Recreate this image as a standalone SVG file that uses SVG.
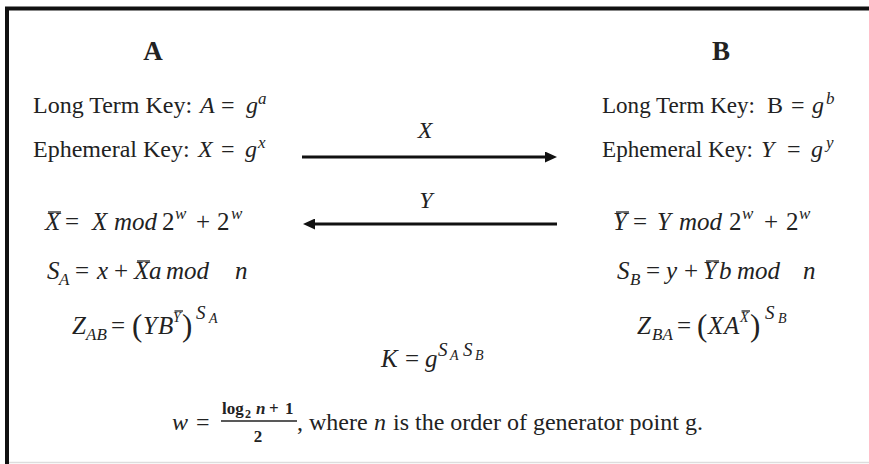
<svg xmlns="http://www.w3.org/2000/svg" width="869" height="464" viewBox="0 0 869 464">
<defs>
<style>
text { font-family: "Liberation Serif", "Times New Roman", serif; fill: #222; }
.t { font-size: 24px; }
.ttl { font-size: 27px; font-weight: bold; }
.m { font-size: 25px; }
.i { font-style: italic; }
.sup { font-size: 17px; }
.sup2 { font-size: 19px; }
.ss { font-size: 14px; }
.sm { font-size: 14px; }
.par { font-size: 31px; }
.num { font-size: 17px; font-weight: bold; }
.bar { stroke: #222; stroke-width: 1.3; }
.arrow { stroke: #111; stroke-width: 3; fill: none; marker-end: url(#head); }
</style>
<marker id="head" viewBox="0 0 12 11" markerWidth="12" markerHeight="11" refX="3" refY="5.5" orient="auto" markerUnits="userSpaceOnUse">
<path d="M0,0 L12,5.5 L0,11 z" fill="#111"/>
</marker>
</defs>
<rect width="869" height="464" fill="#fff"/>
<g id="frame">
<line x1="5" y1="8.5" x2="869" y2="8.5" stroke="#111" stroke-width="4"/>
<line x1="7" y1="7" x2="7" y2="464" stroke="#111" stroke-width="4"/>
<line x1="9" y1="462.5" x2="869" y2="462.5" stroke="#ddd" stroke-width="1.5"/>
</g>
<g id="node-A">
<text class="ttl" x="153" y="60" text-anchor="middle">A</text>
<text class="t" x="33" y="113">Long Term Key: <tspan class="i" x="200">A</tspan><tspan x="221">=</tspan><tspan class="i" x="246">g</tspan><tspan class="i sup" x="258" y="104">a</tspan></text>
<text class="t" x="33" y="157">Ephemeral Key: <tspan class="i" x="198">X</tspan><tspan x="221">=</tspan><tspan class="i" x="245">g</tspan><tspan class="i sup" x="258" y="148">x</tspan></text>
<text class="m" y="230"><tspan class="i" x="45">X</tspan><tspan x="65">=</tspan><tspan class="i" x="92">X</tspan><tspan class="i" x="114">mod</tspan><tspan x="162">2</tspan><tspan class="i sup" x="175" y="219">w</tspan><tspan x="196" y="230">+</tspan><tspan x="217">2</tspan><tspan class="i sup" x="231" y="219">w</tspan></text>
<line class="bar" x1="48" y1="212" x2="61" y2="212"/>
<text class="m" y="279"><tspan class="i" x="47">S</tspan><tspan class="i sup" x="59" y="285">A</tspan><tspan x="75" y="279">=</tspan><tspan class="i" x="97">x</tspan><tspan x="114">+</tspan><tspan class="i" x="134">X</tspan><tspan class="i" x="149">a</tspan><tspan class="i" x="166">mod</tspan><tspan class="i" x="235">n</tspan></text>
<line class="bar" x1="137" y1="261" x2="150" y2="261"/>
<text class="m" y="334"><tspan class="i" x="72">Z</tspan><tspan class="i sup" x="86" y="340">AB</tspan><tspan x="111" y="334">=</tspan><tspan class="par" x="132" y="336">(</tspan><tspan class="i" x="143" y="334">Y</tspan><tspan class="i" x="158">B</tspan><tspan class="i sm" x="173" y="322">Y</tspan><tspan class="par" x="182" y="336">)</tspan><tspan class="i sup2" x="196" y="319">S</tspan><tspan class="i ss" x="209" y="323">A</tspan></text>
<line class="bar" x1="174.5" y1="311" x2="183" y2="311"/>
</g>
<g id="node-B">
<text class="ttl" x="721" y="60" text-anchor="middle">B</text>
<text class="t" x="602" y="113" textLength="153" lengthAdjust="spacingAndGlyphs">Long Term Key:</text>
<text class="t" y="113"><tspan x="767">B</tspan><tspan x="791">=</tspan><tspan class="i" x="812">g</tspan><tspan class="i sup" x="826" y="104">b</tspan></text>
<text class="t" x="602" y="157" textLength="151" lengthAdjust="spacingAndGlyphs">Ephemeral Key:</text>
<text class="t" y="157"><tspan class="i" x="761">Y</tspan><tspan x="787">=</tspan><tspan class="i" x="811">g</tspan><tspan class="i sup" x="826" y="148">y</tspan></text>
<text class="m" y="230"><tspan class="i" x="613">Y</tspan><tspan x="633">=</tspan><tspan class="i" x="657">Y</tspan><tspan class="i" x="679">mod</tspan><tspan x="729">2</tspan><tspan class="i sup" x="742" y="219">w</tspan><tspan x="764" y="230">+</tspan><tspan x="786">2</tspan><tspan class="i sup" x="799" y="219">w</tspan></text>
<line class="bar" x1="616" y1="212" x2="629" y2="212"/>
<text class="m" y="279"><tspan class="i" x="617">S</tspan><tspan class="i sup" x="630" y="285">B</tspan><tspan x="646" y="279">=</tspan><tspan class="i" x="666">y</tspan><tspan x="684">+</tspan><tspan class="i" x="703">Y</tspan><tspan class="i" x="719">b</tspan><tspan class="i" x="737">mod</tspan><tspan class="i" x="803">n</tspan></text>
<line class="bar" x1="706" y1="261" x2="719" y2="261"/>
<text class="m" y="334"><tspan class="i" x="637">Z</tspan><tspan class="i sup" x="652" y="340">BA</tspan><tspan x="677" y="334">=</tspan><tspan class="par" x="697" y="336">(</tspan><tspan class="i" x="708" y="334">X</tspan><tspan class="i" x="724">A</tspan><tspan class="i sm" x="740" y="322">X</tspan><tspan class="par" x="750" y="336">)</tspan><tspan class="i sup2" x="765" y="319">S</tspan><tspan class="i ss" x="778" y="323">B</tspan></text>
<line class="bar" x1="741.5" y1="311" x2="750" y2="311"/>
</g>
<g id="connectors">
<line class="arrow" x1="302" y1="157" x2="548" y2="157"/>
<text class="t i" x="425" y="138" text-anchor="middle">X</text>
<line class="arrow" x1="557" y1="224" x2="312" y2="224"/>
<text class="t i" x="426" y="208" text-anchor="middle">Y</text>
</g>
<g id="shared-key">
<text class="m" y="367"><tspan class="i" x="381">K</tspan><tspan x="405">=</tspan><tspan class="i" x="425">g</tspan><tspan class="i sup2" x="438" y="356">S</tspan><tspan class="i ss" x="450" y="360">A</tspan><tspan class="i sup2" x="463" y="356">S</tspan><tspan class="i ss" x="475" y="360">B</tspan></text>
</g>
<g id="footnote">
<text class="t" y="430"><tspan class="i" x="172">w</tspan><tspan x="196">=</tspan></text>
<text class="num" y="414"><tspan x="222">log</tspan><tspan style="font-size:12px" x="245" y="418">2</tspan><tspan class="i" x="256" y="414">n</tspan><tspan x="269">+</tspan><tspan x="285">1</tspan></text>
<line class="bar" x1="221" y1="421" x2="297" y2="421" stroke-width="1"/>
<text class="num" x="258" y="442" text-anchor="middle">2</text>
<text class="t" y="430"><tspan x="297">, where</tspan><tspan class="i" x="374">n</tspan><tspan x="393">is the order of generator point g.</tspan></text>
</g>
</svg>
